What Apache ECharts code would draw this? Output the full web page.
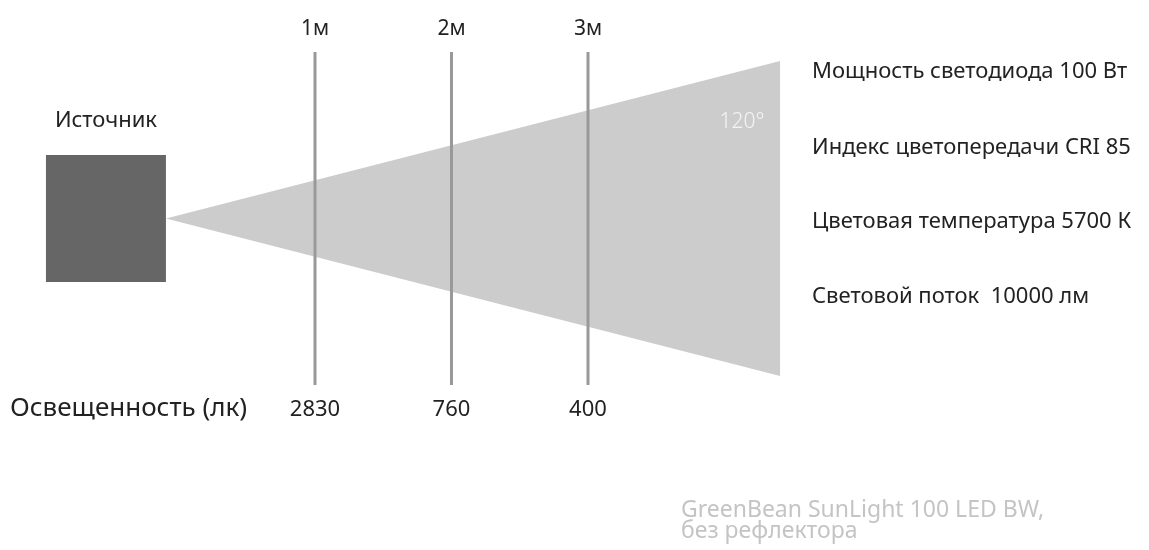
<!DOCTYPE html>
<html>
<head>
<meta charset="utf-8">
<script src="https://cdn.jsdelivr.net/npm/echarts@6/dist/echarts.min.js"></script>
<style>
  html, body { margin: 0; padding: 0; background: #ffffff; }
  #c { width: 1149px; height: 550px; }
</style>
</head>
<body>
<div id="c"></div>
<script>
// ---- data ----
const distances = [1, 2, 3];                     // metres from source
const distanceLabels = ['1м', '2м', '3м'];
const illuminance = [2830, 760, 400];            // lux at each distance
const illuminanceTitle = 'Освещенность (лк)';
const sourceLabel = 'Источник';
const beamAngleLabel = '120°';
const specs = [
  'Мощность светодиода 100 Вт',
  'Индекс цветопередачи CRI 85',
  'Цветовая температура 5700 К',
  'Световой поток  10000 лм'
];
const footer = ['GreenBean SunLight 100 LED BW,', 'без рефлектора'];

// ---- schematic shapes (x in metres, y relative beam height) ----
const sourceBox = [[-0.971, -0.092, -0.381, 0.381]];   // x0, x1, y0, y1
const beam = [[-0.092, 4.407, 0.946]];                 // apexX, endX, halfHeight
const beamLabelAt = [[4.128, 0.58]];

const FONT = '"Noto Sans", "Open Sans", sans-serif';
const chart = echarts.init(document.getElementById('c'));

const option = {
  backgroundColor: '#ffffff',
  animation: false,
  grid: { left: 42, right: 15, top: 52, bottom: 165 },
  xAxis: [
    {
      type: 'value', min: -1, max: 7, position: 'top',
      axisLine: { show: false }, axisTick: { show: false }, splitLine: { show: false },
      axisLabel: {
        show: true, customValues: distances,
        formatter: v => distanceLabels[distances.indexOf(v)],
        fontSize: 21, color: '#222', fontFamily: FONT, margin: 12
      }
    },
    {
      type: 'value', min: -1, max: 7, position: 'bottom',
      axisLine: { show: false }, axisTick: { show: false }, splitLine: { show: false },
      axisLabel: {
        show: true, customValues: distances,
        formatter: v => String(illuminance[distances.indexOf(v)]),
        fontSize: 22, color: '#222', fontFamily: FONT, margin: 14
      }
    }
  ],
  yAxis: { type: 'value', min: -1, max: 1, show: false },
  series: [
    {
      type: 'custom', name: 'beam', coordinateSystem: 'cartesian2d', silent: true,
      data: beam,
      renderItem: (params, api) => {
        const ax = api.value(0), ex = api.value(1), h = api.value(2);
        const pts = [api.coord([ax, 0]), api.coord([ex, h]), api.coord([ex, -h])];
        return { type: 'polygon', shape: { points: pts }, style: { fill: '#cccccc' } };
      }
    },
    {
      type: 'custom', name: 'beamAngle', coordinateSystem: 'cartesian2d', silent: true,
      data: beamLabelAt,
      renderItem: (params, api) => {
        const p = api.coord([api.value(0), api.value(1)]);
        return { type: 'text', x: p[0], y: p[1],
          style: { text: beamAngleLabel, fill: '#f4f4f4', font: '300 21px ' + FONT,
                   align: 'center', verticalAlign: 'middle' } };
      }
    },
    {
      type: 'custom', name: 'distances', coordinateSystem: 'cartesian2d', silent: true,
      data: distances.map(d => [d]),
      renderItem: (params, api) => {
        const x = api.value(0);
        const a = api.coord([x, 1]), b = api.coord([x, -1]);
        return { type: 'line', shape: { x1: a[0], y1: a[1], x2: b[0], y2: b[1] },
          style: { stroke: '#999999', lineWidth: 3 } };
      }
    },
    {
      type: 'custom', name: 'source', coordinateSystem: 'cartesian2d', silent: true,
      data: sourceBox,
      renderItem: (params, api) => {
        const p0 = api.coord([api.value(0), api.value(3)]);
        const p1 = api.coord([api.value(1), api.value(2)]);
        return {
          type: 'rect',
          shape: { x: p0[0], y: p0[1], width: p1[0] - p0[0], height: p1[1] - p0[1] },
          style: { fill: '#666666' },
          textContent: { style: { text: sourceLabel, fill: '#222', font: '22px ' + FONT } },
          textConfig: { position: 'top', distance: 23 }
        };
      }
    }
  ],
  graphic: [
    { type: 'text', x: 10, y: 409, silent: true,
      style: { text: illuminanceTitle, fill: '#222', font: '26px ' + FONT, verticalAlign: 'middle' } },
    ...specs.map((s, i) => ({
      type: 'text', x: 812, y: [72, 148, 222, 297][i], silent: true,
      style: { text: s, fill: '#222', font: '22px ' + FONT, verticalAlign: 'middle' }
    })),
    ...footer.map((s, i) => ({
      type: 'text', x: 681, y: [510, 531][i], silent: true,
      style: { text: s, fill: '#c4c4c4', font: '23px ' + FONT, verticalAlign: 'middle' }
    }))
  ]
};
chart.setOption(option);
</script>
</body>
</html>
